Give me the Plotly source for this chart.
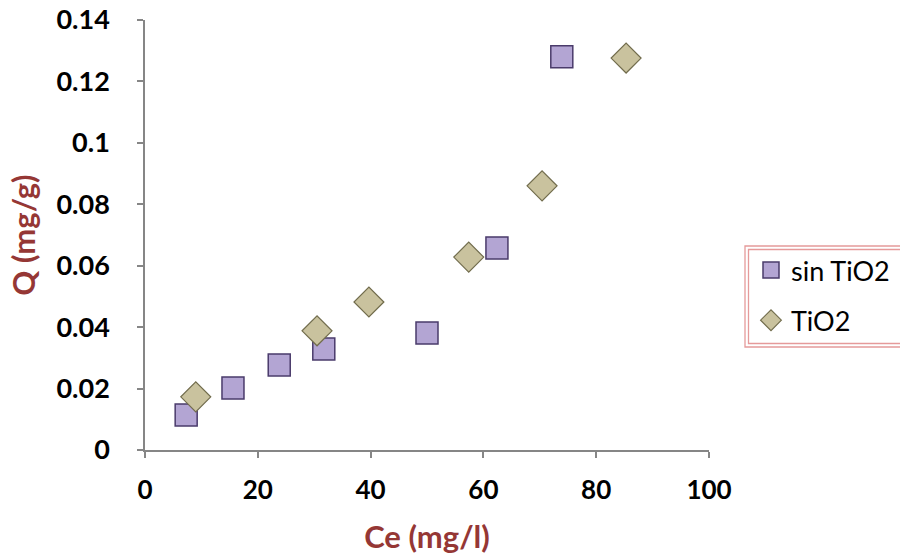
import plotly.graph_objects as go

# Data
sin_tio2_ce = [7.3, 15.6, 23.8, 31.7, 50.0, 62.4, 73.9]
sin_tio2_q = [0.0114, 0.0202, 0.0277, 0.0329, 0.0381, 0.0658, 0.1280]

tio2_ce = [9.0, 30.5, 39.7, 57.4, 70.4, 85.3]
tio2_q = [0.0173, 0.0388, 0.0482, 0.0628, 0.0860, 0.1276]

x_ticks = [0, 20, 40, 60, 80, 100]
y_ticks = [0, 0.02, 0.04, 0.06, 0.08, 0.1, 0.12, 0.14]
y_tick_labels = ["0", "0.02", "0.04", "0.06", "0.08", "0.1", "0.12", "0.14"]

title_color = "#953735"
axis_color = "#868686"
font_family = "Lato, 'Open Sans', sans-serif"

fig = go.Figure()

fig.add_trace(go.Scatter(
    x=sin_tio2_ce, y=sin_tio2_q, mode="markers", name="sin TiO2",
    legendgroup="a",
    marker=dict(symbol="square", size=22, color="#b3a5d3",
                line=dict(color="#4a3b6b", width=1.5)),
))
fig.add_trace(go.Scatter(
    x=tio2_ce, y=tio2_q, mode="markers", name="TiO2",
    legendgroup="b",
    marker=dict(symbol="diamond", size=23, color="#c9c29e",
                line=dict(color="#716c4c", width=1.2)),
))

L, R, T, B = 145, 191, 20, 106
W, H = 900 - L - R, 556 - T - B

def px_x(p):
    return (p - L) / W

def px_y(p):
    return (556 - B - p) / H

shapes = []
for (x0, y0, y1) in [(745, 246, 347), (748.5, 249.5, 343.5)]:
    shapes.append(dict(type="rect", xref="paper", yref="paper",
                       x0=px_x(x0), x1=px_x(960), y0=px_y(y1), y1=px_y(y0),
                       line=dict(color="#e59a9a", width=1.3),
                       fillcolor="rgba(0,0,0,0)", layer="above"))

fig.update_layout(
    width=900, height=556,
    margin=dict(l=L, r=R, t=T, b=B, autoexpand=False),
    paper_bgcolor="white", plot_bgcolor="white",
    font=dict(family=font_family, color="black"),
    showlegend=True,
    legend=dict(x=px_x(751), y=px_y(246), xanchor="left", yanchor="top",
                font=dict(size=27, family=font_family, color="black"),
                bgcolor="rgba(0,0,0,0)", borderwidth=0,
                traceorder="grouped", tracegroupgap=12,
                itemsizing="trace"),
    shapes=shapes,
    xaxis=dict(range=[0, 100], tickvals=x_ticks, showgrid=False, zeroline=False,
               automargin=False,
               showline=True, linecolor=axis_color, linewidth=1.5,
               ticks="outside", ticklen=6, tickcolor=axis_color, tickwidth=1.5,
               tickfont=dict(size=26, family=font_family, color="black", weight="bold"),
               ticklabelstandoff=10,
               title=dict(text="<b>Ce (mg/l)</b>", standoff=22,
                          font=dict(size=31, color=title_color, family=font_family))),
    yaxis=dict(range=[0, 0.14], tickvals=y_ticks, ticktext=y_tick_labels,
               showgrid=False, zeroline=False,
               automargin=False,
               showline=True, linecolor=axis_color, linewidth=1.5,
               ticks="outside", ticklen=6, tickcolor=axis_color, tickwidth=1.5,
               tickfont=dict(size=27, family=font_family, color="black", weight="bold"),
               ticklabelstandoff=22,
               title=dict(text="<b>Q (mg/g)</b>", standoff=12,
                          font=dict(size=31, color=title_color, family=font_family))),
)

fig.write_html("out.html")
